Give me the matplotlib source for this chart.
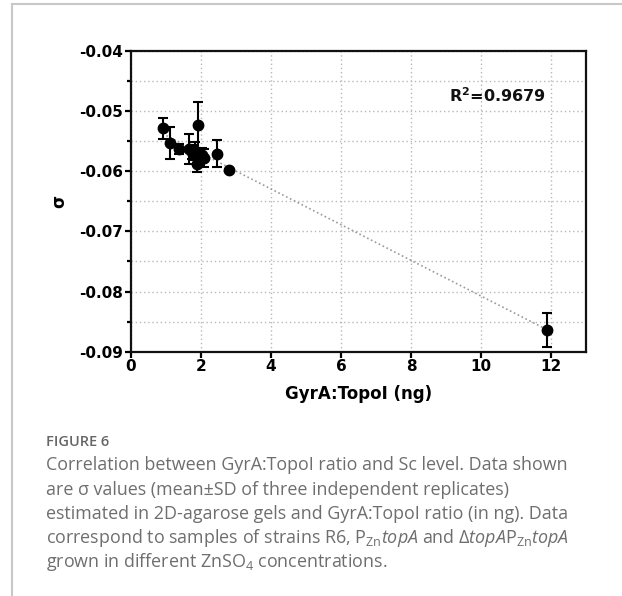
import matplotlib
matplotlib.use("Agg")
import matplotlib.pyplot as plt
from matplotlib.lines import Line2D
from matplotlib.ticker import MultipleLocator
import numpy as np

# GyrA:TopoI 비율과 σ (mean ± SD)
ratio = [0.90, 1.12, 1.36, 1.67, 1.74, 1.83, 1.88, 1.91, 2.02, 2.09, 2.45, 2.79, 11.88]
sigma = [-0.0529, -0.0553, -0.0563, -0.0563, -0.0568, -0.0566, -0.0588,
         -0.0524, -0.0574, -0.0579, -0.0571, -0.0599, -0.0864]
sd = [0.0017, 0.0027, 0.0008, 0.0025, 0.0012, 0.0015, 0.0014,
      0.0039, 0.0012, 0.0015, 0.0022, 0.0003, 0.0029]
x_ticks = [0, 2, 4, 6, 8, 10, 12]
y_ticks = [-0.09, -0.08, -0.07, -0.06, -0.05, -0.04]
r2_label = "R$^\\mathbf{2}$=0.9679"

caption_head = "FIGURE 6"
caption_lines = [
    "Correlation between GyrA:TopoI ratio and Sc level. Data shown",
    "are σ values (mean±SD of three independent replicates)",
    "estimated in 2D-agarose gels and GyrA:TopoI ratio (in ng). Data",
    "correspond to samples of strains R6, P$_{\\mathrm{Zn}}$$\\mathit{topA}$ and "
    "Δ$\\mathit{topA}$P$_{\\mathrm{Zn}}$$\\mathit{topA}$",
    "grown in different ZnSO$_{4}$ concentrations.",
]

plt.rcParams["mathtext.fontset"] = "custom"
plt.rcParams["mathtext.rm"] = "Open Sans"
plt.rcParams["mathtext.it"] = "Open Sans:italic"
plt.rcParams["mathtext.bf"] = "DejaVu Sans:bold"

W, H = 622, 596
fig = plt.figure(figsize=(W / 100, H / 100), dpi=100)
fig.patch.set_facecolor("white")

# 바깥 테두리(왼쪽·위쪽만 보이는 회색 선)
fig.add_artist(Line2D([12 / W, 12 / W], [0, 1 - 4 / H], transform=fig.transFigure,
                      color="#c8c8c8", lw=1.5))
fig.add_artist(Line2D([12 / W, 1], [1 - 4 / H, 1 - 4 / H], transform=fig.transFigure,
                      color="#c8c8c8", lw=1.5))

ax = fig.add_axes([131 / W, 1 - 351.7 / H, 455 / W, 301 / H])
ax.set_xlim(0, 13)
ax.set_ylim(-0.09, -0.04)

ax.yaxis.set_minor_locator(MultipleLocator(0.005))
ax.set_xticks(x_ticks)
ax.set_yticks(y_ticks)
ax.set_xticklabels([str(t) for t in x_ticks])
ax.set_yticklabels([f"{t:.2f}" for t in y_ticks])

ax.grid(True, which="both", color="#b8b8b8", lw=1.0, linestyle=(0, (1, 2)))
ax.grid(False, which="minor", axis="x")
ax.set_axisbelow(True)

for s in ax.spines.values():
    s.set_linewidth(1.6)
    s.set_color("#111111")

ax.tick_params(which="major", direction="out", length=4, width=1.6,
               labelsize=11, pad=1.5)
ax.tick_params(which="minor", direction="out", length=3, width=1.6)
ax.tick_params(axis="x", which="minor", length=0)
for lab in ax.get_xticklabels() + ax.get_yticklabels():
    lab.set_fontfamily("DejaVu Sans")
    lab.set_fontweight("bold")

# 회귀선(점선) — 데이터 범위 안에서만
slope, icpt = np.polyfit(ratio, sigma, 1)
xs = np.array([min(ratio), max(ratio)])
ax.plot(xs, slope * xs + icpt, color="#9a9a9a", lw=1.2,
        linestyle=(0, (1, 1.6)), zorder=2)

ax.errorbar(ratio, sigma, yerr=sd, fmt="o", color="black", ms=7.5,
            ecolor="black", elinewidth=1.5, capsize=3.6, capthick=1.5, zorder=3)

ax.text(9.08, -0.0474, r2_label, ha="left", va="center", fontsize=11.5,
        fontweight="bold", fontfamily="DejaVu Sans", color="#111111")

ax.set_xlabel("GyrA:TopoI (ng)", fontsize=12, fontweight="bold",
              fontfamily="DejaVu Sans", labelpad=8)
ax.set_ylabel("σ", fontsize=12, fontweight="bold", fontfamily="DejaVu Sans",
              labelpad=8)

# 캡션
cap_color = "#6e6e6e"
fig.text(45.6 / W, 1 - 446.5 / H, caption_head, ha="left", va="baseline",
         fontsize=10.5, fontweight="semibold", fontfamily="Open Sans", color="#666666")
for i, line in enumerate(caption_lines):
    fig.text(45.6 / W, 1 - (470.5 + i * 24.2) / H, line, ha="left", va="baseline",
             fontsize=12.9, fontfamily="Open Sans", color=cap_color)

fig.savefig("out.png", dpi=100, facecolor="white")
